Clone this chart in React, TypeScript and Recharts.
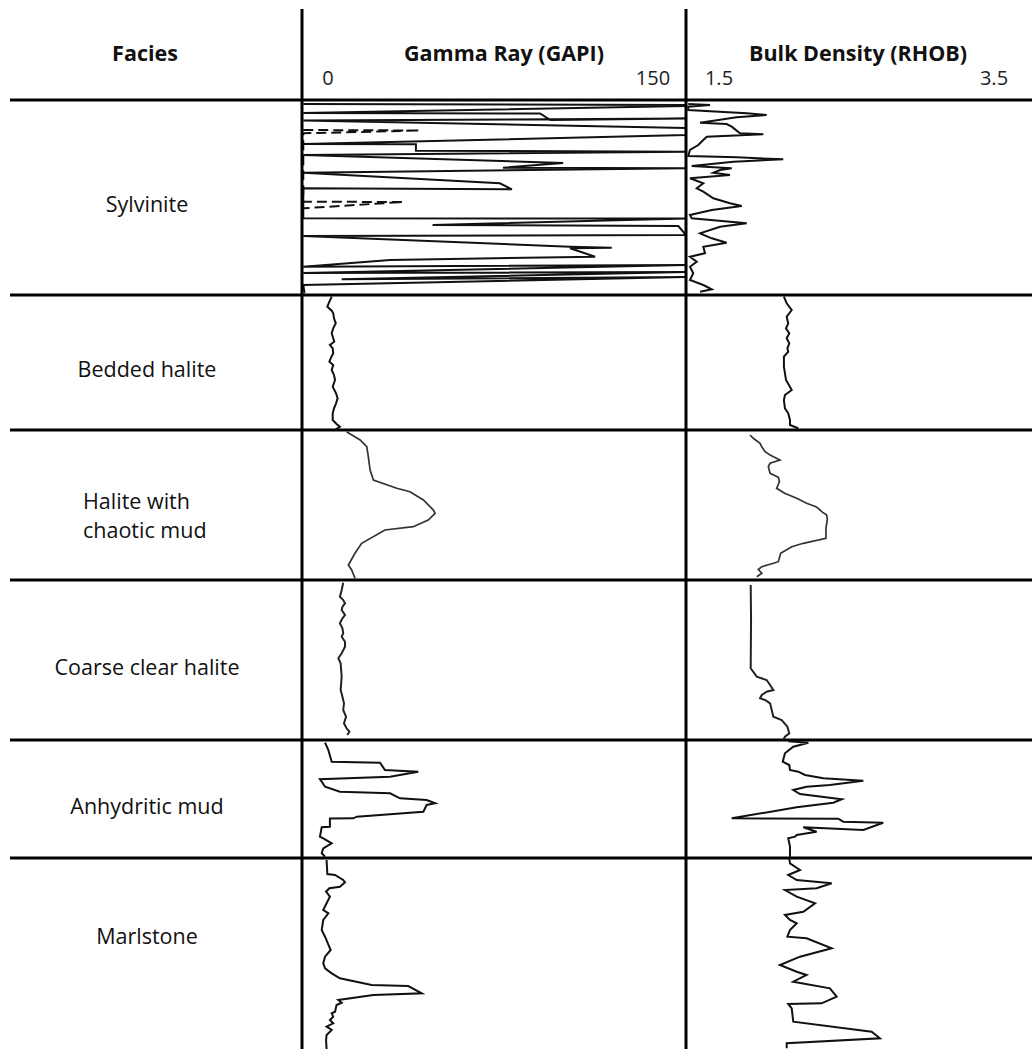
import React from "react";
import { LineChart, Line, XAxis, YAxis, ReferenceLine, ReferenceArea } from "recharts";

const W = 1032;
const H = 1049;
const FONT = "'Open Sans', 'DejaVu Sans', sans-serif";
const INK = "#111111";

// depth in metres below top of the logged interval
const depthDomain: [number, number] = [0, 94.9];
const headerDepth = -9.1;
const zoneTops = [0, 19.5, 33.0, 48.0, 64.0, 75.8];
const faciesLabelBottoms = [19.5, 33.0, 48.0, 64.0, 75.8, 90.0];
const faciesNames: string[][] = [
  ["Sylvinite"],
  ["Bedded halite"],
  ["Halite with", "chaotic mud"],
  ["Coarse clear halite"],
  ["Anhydritic mud"],
  ["Marlstone"],
];

const grDomain: [number, number] = [0, 150];
const grTicks = [0, 150];
const rhobDomain: [number, number] = [1.5, 3.5];
const rhobTicks = [1.5, 3.5];

type Pt = [number, number | null];

// Gamma ray (GAPI) by depth
const grSylvinite: Pt[] = [
  [0.4, 0.5], [0.5, 150], [0.6, 150], [1.3, 0.5], [1.35, 93], [2.0, 97], [1.85, 150], [2.05, 0.5], [2.8, 150], [3.5, 150], [3.9, null],
  [4.4, 0.5], [4.42, 44.5], [5.07, 44.5], [5.17, 150], [5.5, 0.5], [6.3, 102], [6.77, 78.5], [6.83, 150], [7.27, 0.5], [8.33, 77.3], [8.93, 82], [8.83, 0.5], [9.5, null],
  [11.83, 0.5], [11.85, 150], [12.5, 51], [12.6, 147], [13.5, 150], [13.6, 0.5], [14.67, 104.7], [14.77, 121], [14.83, 104.7], [15.67, 114.5], [16.0, 34.4], [16.67, 0.5], [16.5, 150], [17.3, 0.5], [17.2, 150], [17.93, 15.5], [17.7, 150], [18.5, 0.5], [19.3, 1],
];
const grSylvGaps: Pt[] = [
  [3.0, 0.5], [3.05, 46], [3.33, 0.5], [3.6, null],
  [10.17, 0.5], [10.2, 39.5], [10.83, 0.5],
];
const grBedded: Pt[] = [
  [19.67, 11.6], [20.17, 10.7], [20.67, 9.9], [21.07, 11.6], [21.33, 12.2], [21.83, 12.5], [22.33, 13.2], [22.83, 12.2], [23.33, 11.6], [23.83, 12.2],
  [24.17, 12.6], [24.5, 10.9], [24.83, 12.0], [25.33, 12.2], [25.83, 11.2], [26.17, 10.7], [26.5, 12.2], [27.0, 11.6], [27.5, 12.5], [28.0, 12.9],
  [28.67, 12.0], [29.33, 13.3], [29.83, 13.9], [30.33, 13.3], [30.83, 12.5], [31.33, 12.0], [32.0, 12.0], [32.4, 13.5], [32.67, 14.8], [33.0, 12.9],
];
const grChaotic: Pt[] = [
  [33.17, 17.4], [34.0, 22.7], [34.67, 25.3], [35.67, 25.9], [37.0, 26.6], [38.0, 27.9], [38.83, 37.0], [39.17, 42.2], [40.0, 47.4], [41.0, 51.3],
  [41.33, 52.0], [42.0, 49.3], [42.67, 43.5], [43.0, 32.4], [44.33, 23.3], [45.33, 20.7], [46.5, 18.1], [47.0, 19.4], [47.83, 20.7],
];
const grCoarse: Pt[] = [
  [48.27, 16.1], [49.0, 15.5], [49.67, 14.8], [50.0, 16.1], [50.33, 16.8], [50.67, 15.8], [51.0, 15.5], [51.5, 16.8], [51.83, 15.8], [52.33, 14.8],
  [52.83, 15.8], [53.33, 16.1], [53.67, 15.5], [54.17, 16.8], [54.67, 16.8], [55.33, 15.5], [55.83, 14.2], [56.33, 15.1], [57.67, 15.5], [59.0, 15.1],
  [59.67, 15.8], [60.33, 16.4], [61.0, 16.1], [61.67, 17.2], [62.33, 16.4], [62.83, 17.4], [63.17, 18.5], [63.5, 17.7],
];
const grAnhydritic: Pt[] = [
  [64.27, 9.0], [65.0, 10.3], [66.17, 11.6], [66.27, 30.5], [67.0, 32.4], [67.17, 45.4], [67.67, 34.4], [67.93, 7.0], [68.17, 7.7], [68.67, 9.0],
  [69.17, 14.8], [69.33, 34.4], [69.83, 38.3], [70.0, 48.7], [70.33, 52.0], [70.5, 48.7], [71.17, 47.4], [71.33, 39.6], [71.67, 21.4], [71.83, 20.0],
  [71.85, 10.9], [72.67, 10.9], [72.73, 7.7], [73.67, 7.0], [73.83, 8.3], [74.33, 11.6], [74.83, 8.3], [75.33, 7.7], [75.67, 9.0],
];
const grMarlstone: Pt[] = [
  [76.0, 9.6], [77.4, 9.9], [77.5, 12.9], [78.0, 16.1], [78.23, 16.8], [78.67, 14.8], [78.83, 10.7], [79.17, 9.4], [79.67, 10.9], [80.33, 9.6],
  [81.0, 8.3], [81.33, 10.3], [82.0, 8.3], [83.0, 7.7], [83.67, 9.0], [85.0, 11.2], [85.67, 9.0], [86.33, 8.3], [86.83, 9.0], [87.33, 11.6],
  [87.83, 14.8], [88.5, 27.2], [88.6, 41.5], [89.33, 46.8], [89.5, 27.9], [90.0, 14.2], [90.27, 15.5], [90.5, 13.5], [91.17, 12.9], [91.33, 11.6],
  [91.67, 12.2], [92.0, 10.9], [92.33, 12.2], [92.67, 9.6], [93.0, 11.6], [93.5, 9.6], [94.0, 9.4], [94.9, 9.6],
];

// Bulk density (g/cc) by depth
const rhobSylvinite: Pt[] = [
  [0.4, 1.513], [0.5, 1.639], [0.67, 1.513], [1.0, 1.513], [1.33, 1.851], [1.5, 1.966], [1.73, 1.793], [2.27, 1.581], [2.4, 1.735], [2.67, 1.764],
  [3.33, 1.812], [3.43, 1.947], [3.67, 1.62], [4.0, 1.6], [4.5, 1.571], [5.0, 1.523], [5.6, 1.513], [5.73, 1.793], [5.93, 2.062], [6.17, 1.774],
  [6.6, 1.533], [6.83, 1.764], [7.0, 1.697], [7.27, 1.658], [7.5, 1.754], [7.83, 1.523], [8.33, 1.6], [8.83, 1.562], [9.17, 1.6], [9.83, 1.658],
  [10.33, 1.754], [10.6, 1.822], [11.0, 1.649], [11.5, 1.523], [11.83, 1.533], [12.33, 1.851], [12.67, 1.697], [13.33, 1.581], [13.83, 1.649], [14.27, 1.735],
  [14.67, 1.6], [15.33, 1.61], [15.67, 1.523], [16.17, 1.562], [16.67, 1.523], [17.33, 1.542], [18.0, 1.523], [18.5, 1.6], [18.93, 1.649], [19.17, 1.581],
];
const rhobBedded: Pt[] = [
  [19.67, 2.066], [20.33, 2.082], [21.0, 2.111], [21.67, 2.082], [22.33, 2.091], [22.83, 2.078], [23.33, 2.097], [23.83, 2.082], [24.33, 2.097], [24.83, 2.086],
  [25.17, 2.091], [25.67, 2.066], [26.67, 2.066], [28.0, 2.078], [29.0, 2.111], [29.5, 2.072], [30.0, 2.066], [30.83, 2.072], [31.33, 2.091], [32.0, 2.101],
  [32.5, 2.101], [32.83, 2.149],
];
const rhobChaotic: Pt[] = [
  [33.5, 1.87], [33.83, 1.889], [34.33, 1.928], [34.67, 1.938], [35.17, 1.957], [35.5, 1.986], [36.0, 2.043], [36.33, 1.986], [36.67, 1.976], [37.33, 1.986],
  [37.73, 2.034], [38.17, 2.04], [38.83, 2.024], [39.33, 2.07], [39.83, 2.14], [40.33, 2.197], [40.67, 2.251], [40.83, 2.265], [41.17, 2.284], [41.5, 2.313],
  [41.93, 2.317], [42.83, 2.309], [43.83, 2.309], [44.33, 2.178], [44.67, 2.111], [45.33, 2.047], [46.17, 2.034], [46.33, 2.005], [46.67, 1.938], [46.93, 1.918],
  [47.33, 1.938], [47.67, 1.909],
];
const rhobCoarse: Pt[] = [
  [48.5, 1.874], [52.0, 1.876], [56.83, 1.874], [57.67, 1.909], [58.0, 1.966], [58.5, 1.986], [59.0, 2.005], [59.17, 1.966], [59.5, 1.938], [59.83, 1.928],
  [60.0, 1.957], [60.33, 1.986], [61.67, 2.005], [62.0, 2.053], [62.67, 2.086], [63.33, 2.097], [63.67, 2.072], [64.0, 2.062],
];
const rhobAnhydritic: Pt[] = [
  [64.12, 2.091], [64.27, 2.207], [64.67, 2.12], [65.33, 2.072], [66.17, 2.059], [66.5, 2.097], [67.0, 2.101], [67.17, 2.149], [67.5, 2.188], [67.83, 2.294],
  [68.07, 2.525], [68.5, 2.332], [68.67, 2.197], [69.0, 2.12], [69.4, 2.159], [69.93, 2.4], [70.27, 2.351], [70.73, 2.14], [71.83, 1.764], [71.87, 2.38],
  [72.17, 2.409], [72.27, 2.64], [73.0, 2.525], [72.73, 2.178], [73.17, 2.255], [73.5, 2.14], [73.67, 2.13], [73.83, 2.091], [74.67, 2.101], [75.73, 2.101],
];
const rhobMarlstone: Pt[] = [
  [75.83, 2.097], [76.33, 2.101], [77.0, 2.159], [77.5, 2.091], [78.0, 2.14], [78.33, 2.342], [78.83, 2.255], [79.0, 2.072], [79.67, 2.14], [80.33, 2.246],
  [81.17, 2.178], [81.5, 2.072], [82.0, 2.101], [82.33, 2.14], [83.0, 2.101], [83.67, 2.086], [83.83, 2.197], [84.83, 2.342], [85.67, 2.159], [86.5, 2.043],
  [87.17, 2.14], [87.5, 2.197], [88.17, 2.12], [88.83, 2.332], [89.67, 2.371], [90.33, 2.284], [90.4, 2.091], [90.83, 2.111], [92.17, 2.12], [93.17, 2.573],
  [93.83, 2.621], [94.33, 2.082], [94.83, 2.082],
];

const grSeries = [grSylvinite, grBedded, grChaotic, grCoarse, grAnhydritic, grMarlstone];
const rhobSeries = [rhobSylvinite, rhobBedded, rhobChaotic, rhobCoarse, rhobAnhydritic, rhobMarlstone];
// stroke shades per facies interval (the chaotic-mud interval is drawn a little lighter)
const seriesInk = [INK, INK, "#333333", "#222222", INK, INK];

const rows = (pts: Pt[]) => pts.map(([depth, v]) => ({ depth, v }));
const faciesRows = zoneTops.map((depth) => ({ depth, v: 0.5 }));

const makeEdgeTick = (offsets: Record<string, number>) => (props: any) => {
  const { x, y, payload } = props;
  const dx = offsets[String(payload.value)] ?? 0;
  return (
    <text x={x + dx} y={y} textAnchor="middle" dominantBaseline="central" fontFamily={FONT} fontSize={20} fill="#1e1e1e">
      {String(payload.value)}
    </text>
  );
};

const titleLabel = (text: string, dx: number) => ({
  content: (p: any) => {
    const vb = p.viewBox || { x: 0, y: 70, width: 0 };
    return (
      <text x={vb.x + vb.width / 2 + dx} y={vb.y - 18} textAnchor="middle" dominantBaseline="central" fontFamily={FONT} fontSize={21.5} fontWeight={700} fill="#111">
        {text}
      </text>
    );
  },
});

const faciesLabel = (lines: string[]) => ({
  content: (p: any) => {
    const vb = p.viewBox;
    if (!vb) return null;
    const cx = vb.x + vb.width / 2 - 9;
    const cy = vb.y + vb.height / 2 + 6;
    const common = { fontFamily: FONT, fontSize: 21.5, fill: "#111", dominantBaseline: "central" as const };
    if (lines.length === 1) {
      return (
        <text x={cx} y={cy} textAnchor="middle" {...common}>
          {lines[0]}
        </text>
      );
    }
    return (
      <g>
        {lines.map((l, i) => (
          <text key={i} x={cx - 64} y={cy + 3.5 + (i - 0.5) * 29} textAnchor="start" {...common}>
            {l}
          </text>
        ))}
      </g>
    );
  },
});

const zoneLines = () =>
  zoneTops.map((d) => <ReferenceLine key={`z${d}`} y={d} stroke="#000" strokeWidth={3} ifOverflow="visible" />);

const layer: React.CSSProperties = { position: "absolute", left: 0, top: 0 };

export default function App() {
  return (
    <div style={{ position: "absolute", left: 0, top: 0, width: W, height: H, background: "#fff", overflow: "hidden", fontFamily: FONT }}>
      {/* Facies column */}
      <div style={layer}>
        <LineChart width={W} height={H} layout="vertical" data={faciesRows} margin={{ top: 70, right: W - 302, bottom: 0, left: 10 }}>
          <XAxis type="number" orientation="top" domain={[0, 1]} height={30} tick={false} axisLine={false} tickLine={false} label={titleLabel("Facies", -11)} />
          <YAxis type="number" dataKey="depth" domain={depthDomain} hide allowDataOverflow />
          <Line dataKey="v" stroke="none" strokeOpacity={0} dot={false} activeDot={false} isAnimationActive={false} />
          {faciesNames.map((lines, i) => (
            <ReferenceArea key={`f${i}`} y1={zoneTops[i]} y2={faciesLabelBottoms[i]} fill="#fff" fillOpacity={0} stroke="none" ifOverflow="visible" label={faciesLabel(lines)} />
          ))}
          {zoneLines()}
        </LineChart>
      </div>

      {/* Gamma ray track */}
      <div style={layer}>
        <LineChart width={W} height={H} layout="vertical" margin={{ top: 70, right: W - 686, bottom: 0, left: 302 }}>
          <XAxis
            type="number"
            orientation="top"
            domain={grDomain}
            ticks={grTicks}
            allowDataOverflow
            height={30}
            axisLine={false}
            tickLine={false}
            tickSize={0}
            tickMargin={23}
            interval={0}
            tick={makeEdgeTick({ "0": 26, "150": -33 })}
            label={titleLabel("Gamma Ray (GAPI)", 10)}
          />
          <YAxis type="number" dataKey="depth" domain={depthDomain} hide allowDataOverflow />
          {zoneLines()}
          {grSeries.map((s, i) => (
            <Line key={`gr${i}`} data={rows(s)} dataKey="v" type="linear" stroke={seriesInk[i]} strokeWidth={i === 2 ? 1.7 : 2} strokeLinejoin="miter" dot={false} activeDot={false} connectNulls={false} isAnimationActive={false} />
          ))}
          <Line data={rows(grSylvGaps)} dataKey="v" type="linear" stroke={INK} strokeWidth={2} strokeDasharray="10 5" dot={false} activeDot={false} connectNulls={false} isAnimationActive={false} />
          <ReferenceLine segment={[{ x: 0, y: headerDepth }, { x: 0, y: depthDomain[1] }]} stroke="#000" strokeWidth={3} ifOverflow="visible" />
          <ReferenceLine segment={[{ x: 150, y: headerDepth }, { x: 150, y: depthDomain[1] }]} stroke="#000" strokeWidth={3} ifOverflow="visible" />
        </LineChart>
      </div>

      {/* Bulk density track */}
      <div style={layer}>
        <LineChart width={W} height={H} layout="vertical" margin={{ top: 70, right: 0, bottom: 0, left: 686 }}>
          <XAxis
            type="number"
            orientation="top"
            domain={rhobDomain}
            ticks={rhobTicks}
            allowDataOverflow
            height={30}
            axisLine={false}
            tickLine={false}
            tickSize={0}
            tickMargin={23}
            interval={0}
            tick={makeEdgeTick({ "1.5": 33, "3.5": -38 })}
            label={titleLabel("Bulk Density (RHOB)", -1)}
          />
          <YAxis type="number" dataKey="depth" domain={depthDomain} hide allowDataOverflow />
          {zoneLines()}
          {rhobSeries.map((s, i) => (
            <Line key={`rh${i}`} data={rows(s)} dataKey="v" type="linear" stroke={seriesInk[i]} strokeWidth={i === 2 ? 1.7 : 2} strokeLinejoin="miter" dot={false} activeDot={false} connectNulls={false} isAnimationActive={false} />
          ))}
        </LineChart>
      </div>
    </div>
  );
}
